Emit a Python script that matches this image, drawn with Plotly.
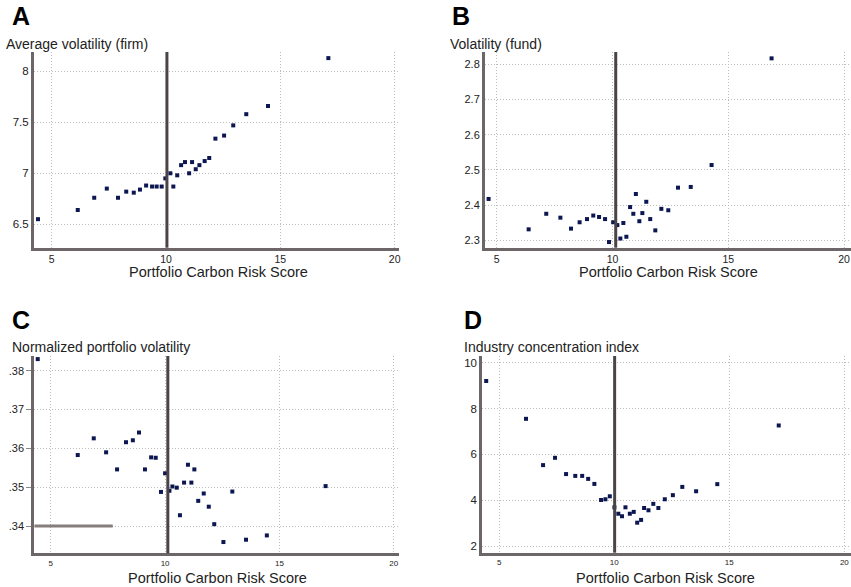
import plotly.graph_objects as go

W, H = 851, 587

# ---------------- data ----------------
a_x = [4.40, 6.14, 6.86, 7.41, 7.90, 8.26, 8.59, 8.86, 9.13, 9.39, 9.59, 9.81, 9.97, 10.19, 10.32,
       10.49, 10.66, 10.83, 11.01, 11.14, 11.30, 11.46, 11.69, 11.89, 12.16, 12.54, 12.94, 13.51, 14.46, 17.10]
a_y = [6.55, 6.64, 6.76, 6.85, 6.76, 6.82, 6.81, 6.84, 6.88, 6.87, 6.87, 6.87, 6.95, 7.00, 6.87,
       6.98, 7.08, 7.11, 7.00, 7.11, 7.04, 7.08, 7.12, 7.15, 7.34, 7.37, 7.47, 7.58, 7.66, 8.13]

b_x = [4.65, 6.38, 7.14, 7.75, 8.21, 8.58, 8.90, 9.17, 9.42, 9.68, 9.85, 10.03, 10.21, 10.34, 10.47,
       10.60, 10.76, 10.90, 11.01, 11.16, 11.29, 11.46, 11.63, 11.85, 12.11, 12.41, 12.83, 13.38, 14.28, 16.87]
b_y = [2.418, 2.332, 2.376, 2.365, 2.334, 2.352, 2.361, 2.371, 2.367, 2.361, 2.296, 2.352, 2.344, 2.306, 2.350,
       2.311, 2.395, 2.376, 2.432, 2.355, 2.378, 2.410, 2.361, 2.329, 2.390, 2.386, 2.450, 2.452, 2.514, 2.816]

c_x = [4.43, 6.18, 6.88, 7.42, 7.90, 8.29, 8.59, 8.86, 9.12, 9.39, 9.59, 9.82, 10.00, 10.19, 10.32,
       10.51, 10.65, 10.83, 11.00, 11.15, 11.28, 11.45, 11.69, 11.91, 12.15, 12.55, 12.94, 13.54, 14.45, 17.02]
c_y = [0.3830, 0.3583, 0.3626, 0.3590, 0.3546, 0.3616, 0.3621, 0.3641, 0.3546, 0.3577, 0.3576, 0.3488, 0.3536,
       0.3491, 0.3502, 0.3499, 0.3428, 0.3512, 0.3558, 0.3512, 0.3546, 0.3465, 0.3484, 0.3450, 0.3405, 0.3359,
       0.3489, 0.3365, 0.3376, 0.3503]

d_x = [4.44, 6.17, 6.91, 7.43, 7.91, 8.31, 8.61, 8.87, 9.14, 9.43, 9.62, 9.81, 10.01, 10.18, 10.34,
       10.49, 10.68, 10.85, 11.00, 11.17, 11.30, 11.49, 11.70, 11.92, 12.20, 12.55, 12.96, 13.56, 14.48, 17.15]
d_y = [9.20, 7.55, 5.53, 5.85, 5.14, 5.06, 5.06, 4.93, 4.71, 4.01, 4.04, 4.17, 3.69, 3.41, 3.30,
       3.69, 3.41, 3.49, 3.02, 3.14, 3.66, 3.56, 3.84, 3.66, 4.04, 4.22, 4.58, 4.39, 4.70, 7.26]

ref_lines = [10.04, 10.14, 10.12, 10.02]

panel_letters = ["A", "B", "C", "D"]
panel_titles = ["Average volatility (firm)", "Volatility (fund)",
                "Normalized portfolio volatility", "Industry concentration index"]
x_title = "Portfolio Carbon Risk Score"
x_ticks = [5, 10, 15, 20]
a_yticks = [6.5, 7, 7.5, 8]
a_yticktext = ["6.5", "7", "7.5", "8"]
b_yticks = [2.3, 2.4, 2.5, 2.6, 2.7, 2.8]
b_yticktext = ["2.3", "2.4", "2.5", "2.6", "2.7", "2.8"]
c_yticks = [0.34, 0.35, 0.36, 0.37, 0.38]
c_yticktext = [".34", ".35", ".36", ".37", ".38"]
d_yticks = [2, 4, 6, 8, 10]
d_yticktext = ["2", "4", "6", "8", "10"]
c_bar_x = [4.28, 7.71]
c_bar_y = 0.34

# ---------------- layout helpers ----------------
def fx(px):
    return px / W

def fy(py):
    return 1 - py / H

FONT = "Liberation Sans"
AXIS_COL = "#6d6668"
GRID_COL = "#bdbdbd"
MARK_COL = "#0c1650"
GRID_DASH = "1px,2px"

panels = [
    dict(xs=a_x, ys=a_y, dom_x=(34, 399), dom_y=(52, 247.7), xr=(4.226, 20.19), yr=(6.27, 8.19),
         yt=a_yticks, ytt=a_yticktext, xtf=10.5, ytf=11.5, yticklen=0),
    dict(xs=b_x, ys=b_y, dom_x=(485, 851), dom_y=(52, 247.7), xr=(4.495, 20.30), yr=(2.28, 2.834),
         yt=b_yticks, ytt=b_yticktext, xtf=10.5, ytf=11, yticklen=0),
    dict(xs=c_x, ys=c_y, dom_x=(34.3, 399), dom_y=(356, 553.3), xr=(4.28, 20.23), yr=(0.3330, 0.3838),
         yt=c_yticks, ytt=c_yticktext, xtf=8, ytf=11, yticklen=5),
    dict(xs=d_x, ys=d_y, dom_x=(482.3, 851), dom_y=(356, 552.7), xr=(4.27, 20.29), yr=(1.71, 10.29),
         yt=d_yticks, ytt=d_yticktext, xtf=8, ytf=11.5, yticklen=0),
]

fig = go.Figure()
layout = dict(
    width=W, height=H, showlegend=False,
    margin=dict(l=0, r=0, t=0, b=0, autoexpand=False),
    paper_bgcolor="white", plot_bgcolor="white",
    font=dict(family=FONT, color="#222222"),
)
shapes = []
annotations = []

for i, p in enumerate(panels):
    n = "" if i == 0 else str(i + 1)
    xa = "x" + n
    ya = "y" + n
    fig.add_trace(go.Scatter(
        x=p["xs"], y=p["ys"], mode="markers", xaxis=xa, yaxis=ya,
        marker=dict(symbol="square", size=4, color=MARK_COL, line=dict(width=0)),
        hoverinfo="skip", cliponaxis=False))
    layout["xaxis" + n] = dict(
        domain=[fx(p["dom_x"][0]), fx(p["dom_x"][1])], anchor=ya, range=list(p["xr"]),
        tickvals=x_ticks, ticktext=[str(v) for v in x_ticks], automargin=False,
        ticklabeloverflow="allow",
        showgrid=True, gridcolor=GRID_COL, griddash=GRID_DASH, gridwidth=1,
        zeroline=False, showline=True, linecolor=AXIS_COL, linewidth=3,
        ticks="", tickfont=dict(family=FONT, size=p["xtf"], color="#222222"),
    )
    layout["yaxis" + n] = dict(
        domain=[fy(p["dom_y"][1]), fy(p["dom_y"][0])], anchor=xa, range=list(p["yr"]),
        tickvals=p["yt"], ticktext=p["ytt"], automargin=False,
        showgrid=True, gridcolor=GRID_COL, griddash=GRID_DASH, gridwidth=1,
        zeroline=False, showline=True, linecolor=AXIS_COL, linewidth=3,
        ticks="outside" if p["yticklen"] else "", ticklen=p["yticklen"], tickcolor="#888888",
        tickwidth=1,
        tickfont=dict(family=FONT, size=p["ytf"], color="#222222"),
    )
    # vertical reference line
    shapes.append(dict(type="line", xref=xa, yref=ya + " domain", x0=ref_lines[i], x1=ref_lines[i],
                       y0=0, y1=1, line=dict(color="#4a4446", width=3), layer="above"))
    # panel letter
    annotations.append(dict(text="<b>%s</b>" % panel_letters[i], xref="paper", yref="paper",
                            x=fx([10, 450, 10, 462][i]),
                            y=fy([16, 16, 320, 320][i]),
                            xanchor="left", yanchor="middle", showarrow=False,
                            font=dict(family=FONT, size=25, color="black")))
    # y title on top
    annotations.append(dict(text=panel_titles[i], xref="paper", yref="paper",
                            x=fx([4, 448, 10, 462][i]),
                            y=fy([44, 44, 347, 347][i]),
                            xanchor="left", yanchor="middle", showarrow=False,
                            font=dict(family=FONT, size=14, color="#222222")))
    # x title
    annotations.append(dict(text=x_title, xref="paper", yref="paper",
                            x=fx([218.3, 668.7, 217.2, 665.7][i]),
                            y=fy([272, 272, 578, 578][i]),
                            xanchor="center", yanchor="middle", showarrow=False,
                            font=dict(family=FONT, size=14.5, color="#222222")))

# grey horizontal segment in panel C
shapes.append(dict(type="line", xref="x3", yref="y3", x0=c_bar_x[0], x1=c_bar_x[1],
                   y0=c_bar_y, y1=c_bar_y, line=dict(color="#857e7c", width=3), layer="above"))

layout["shapes"] = shapes
layout["annotations"] = annotations
fig.update_layout(**layout)
fig.write_html("out.html", config={"displayModeBar": False, "staticPlot": True},
               post_script="document.body.style.margin='0';document.body.style.overflow='hidden';")
